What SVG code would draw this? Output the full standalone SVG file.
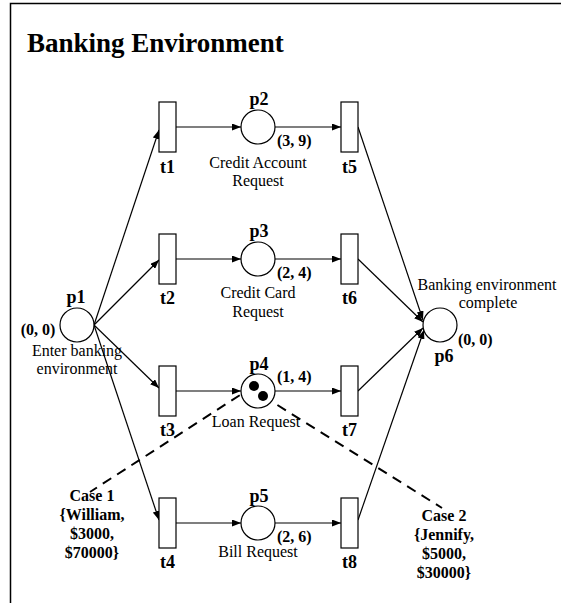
<svg xmlns="http://www.w3.org/2000/svg" width="561" height="603" viewBox="0 0 561 603">
<style>
.b{font-family:"Liberation Serif","Times New Roman",serif;font-weight:bold;fill:#000}
.r{font-family:"Liberation Serif","Times New Roman",serif;fill:#000;font-size:16px}
.lbl{font-size:18px}
.tok{font-size:16px}
.pl{fill:#fff;stroke:#000;stroke-width:1.2}
.tr{fill:#fff;stroke:#000;stroke-width:1.2}
.e{stroke:#000;stroke-width:1.2;fill:none;marker-end:url(#ah)}
.d{stroke:#000;stroke-width:2;fill:none;stroke-dasharray:10,7}
</style>
<defs>
<marker id="ah" markerUnits="userSpaceOnUse" markerWidth="9" markerHeight="7" refX="9" refY="3.5" orient="auto">
<path d="M0,0 L9,3.5 L0,7 z" fill="#000"/>
</marker>
</defs>
<rect width="561" height="603" fill="#fff"/>
<g id="frame">
<path d="M10.5,603 V3.5 H561" fill="none" stroke="#000" stroke-width="1.5"/>
</g>
<text class="b" x="27" y="52" font-size="27">Banking Environment</text>
<g id="connectors">
<line class="e" x1="94" y1="325" x2="159" y2="130"/>
<line class="e" x1="94" y1="325" x2="159" y2="260"/>
<line class="e" x1="94" y1="325" x2="159" y2="388"/>
<line class="e" x1="94" y1="325" x2="159" y2="520"/>
<line class="e" x1="176" y1="127" x2="241" y2="127"/>
<line class="e" x1="176" y1="259" x2="241" y2="259"/>
<line class="e" x1="176" y1="391" x2="241" y2="391"/>
<line class="e" x1="176" y1="523" x2="241" y2="523"/>
<line class="e" x1="275" y1="127" x2="341" y2="127"/>
<line class="e" x1="275" y1="259" x2="341" y2="259"/>
<line class="e" x1="275" y1="391" x2="341" y2="391"/>
<line class="e" x1="275" y1="523" x2="341" y2="523"/>
<line class="e" x1="358" y1="127" x2="423" y2="320"/>
<line class="e" x1="358" y1="259" x2="423" y2="322"/>
<line class="e" x1="358" y1="391" x2="423" y2="328"/>
<line class="e" x1="358" y1="520" x2="424" y2="330"/>
<line class="d" x1="254" y1="386" x2="90" y2="492"/>
<line class="d" x1="263" y1="396" x2="442" y2="508"/>
</g>
<g id="p1">
<circle class="pl" cx="77" cy="325" r="17"/>
<text class="b lbl" x="76" y="303" text-anchor="middle">p1</text>
<text class="b tok" x="38" y="335" text-anchor="middle">(0, 0)</text>
<text class="r" x="77" y="356" text-anchor="middle">Enter banking</text>
<text class="r" x="77" y="374" text-anchor="middle">environment</text>
</g>
<g id="t1"><rect class="tr" x="159" y="102" width="17" height="50"/><text class="b lbl" x="167.5" y="173" text-anchor="middle">t1</text></g>
<g id="t2"><rect class="tr" x="159" y="234" width="17" height="50"/><text class="b lbl" x="167.5" y="304" text-anchor="middle">t2</text></g>
<g id="t3"><rect class="tr" x="159" y="366" width="17" height="50"/><text class="b lbl" x="167.5" y="436" text-anchor="middle">t3</text></g>
<g id="t4"><rect class="tr" x="159" y="498" width="17" height="50"/><text class="b lbl" x="167.5" y="568" text-anchor="middle">t4</text></g>
<g id="t5"><rect class="tr" x="341" y="102" width="17" height="50"/><text class="b lbl" x="349.5" y="173" text-anchor="middle">t5</text></g>
<g id="t6"><rect class="tr" x="341" y="234" width="17" height="50"/><text class="b lbl" x="349.5" y="304" text-anchor="middle">t6</text></g>
<g id="t7"><rect class="tr" x="341" y="366" width="17" height="50"/><text class="b lbl" x="349.5" y="436" text-anchor="middle">t7</text></g>
<g id="t8"><rect class="tr" x="341" y="498" width="17" height="50"/><text class="b lbl" x="349.5" y="568" text-anchor="middle">t8</text></g>
<g id="p2">
<circle class="pl" cx="258" cy="127" r="17"/>
<text class="b lbl" x="259" y="105" text-anchor="middle">p2</text>
<text class="b tok" x="277" y="146">(3, 9)</text>
<text class="r" x="258" y="168" text-anchor="middle">Credit Account</text>
<text class="r" x="258" y="186" text-anchor="middle">Request</text>
</g>
<g id="p3">
<circle class="pl" cx="258" cy="259" r="17"/>
<text class="b lbl" x="259" y="237" text-anchor="middle">p3</text>
<text class="b tok" x="277" y="278">(2, 4)</text>
<text class="r" x="258" y="298" text-anchor="middle">Credit Card</text>
<text class="r" x="258" y="317" text-anchor="middle">Request</text>
</g>
<g id="p4">
<circle class="pl" cx="258" cy="391" r="17"/>
<circle cx="254" cy="386" r="5" fill="#000"/>
<circle cx="263" cy="396" r="5" fill="#000"/>
<text class="b lbl" x="259" y="370" text-anchor="middle">p4</text>
<text class="b tok" x="277" y="382">(1, 4)</text>
<text class="r" x="256" y="427" text-anchor="middle">Loan Request</text>
</g>
<g id="p5">
<circle class="pl" cx="258" cy="523" r="17"/>
<text class="b lbl" x="259" y="502" text-anchor="middle">p5</text>
<text class="b tok" x="277" y="542">(2, 6)</text>
<text class="r" x="258" y="557" text-anchor="middle">Bill Request</text>
</g>
<g id="p6">
<circle class="pl" cx="440" cy="325" r="17"/>
<text class="b lbl" x="444" y="362" text-anchor="middle">p6</text>
<text class="b tok" x="458" y="345">(0, 0)</text>
<text class="r" x="487" y="290" text-anchor="middle">Banking environment</text>
<text class="r" x="488" y="308" text-anchor="middle">complete</text>
</g>
<g id="case1">
<text class="b tok" x="92" y="501" text-anchor="middle">Case 1</text>
<text class="b tok" x="92" y="520" text-anchor="middle">{William,</text>
<text class="b tok" x="92" y="539" text-anchor="middle">$3000,</text>
<text class="b tok" x="92" y="558" text-anchor="middle">$70000}</text>
</g>
<g id="case2">
<text class="b tok" x="444" y="521" text-anchor="middle">Case 2</text>
<text class="b tok" x="444" y="540" text-anchor="middle">{Jennify,</text>
<text class="b tok" x="444" y="559" text-anchor="middle">$5000,</text>
<text class="b tok" x="444" y="578" text-anchor="middle">$30000}</text>
</g>
</svg>
